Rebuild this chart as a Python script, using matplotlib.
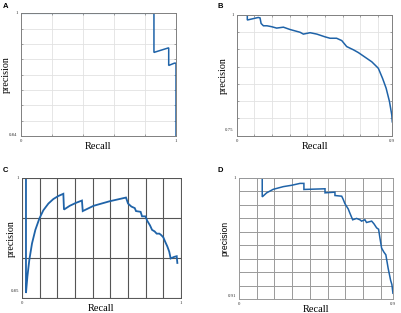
import numpy as np
import matplotlib
matplotlib.use('Agg')
import matplotlib.pyplot as plt

# ---- data ----
# panel A
a_recall = [0.0, 0.858, 0.858, 0.953, 0.953, 0.99, 1.0, 1.0]
a_prec = [1.0, 1.0, 0.949, 0.955, 0.932, 0.935, 0.935, 0.84]

# panel B
b_recall = [0.0, 0.060, 0.060, 0.122, 0.132, 0.138, 0.151, 0.171, 0.198, 0.226, 0.264,
            0.301, 0.358, 0.377, 0.415, 0.453, 0.500, 0.528, 0.565, 0.594, 0.622,
            0.660, 0.688, 0.726, 0.764, 0.801, 0.825, 0.845, 0.864, 0.877, 0.880]
b_prec = [1.0, 1.0, 0.9885, 0.994, 0.993, 0.981, 0.976, 0.976, 0.974, 0.971, 0.973,
          0.968, 0.962, 0.958, 0.961, 0.958, 0.952, 0.949, 0.949, 0.944, 0.931,
          0.924, 0.918, 0.908, 0.898, 0.884, 0.862, 0.841, 0.812, 0.783, 0.768]

# panel C
c_recall = [0.025, 0.025, 0.034, 0.046, 0.063, 0.084, 0.109, 0.134, 0.166, 0.197, 0.228,
            0.260, 0.264, 0.300, 0.340, 0.377, 0.382, 0.450, 0.550, 0.654,
            0.667, 0.688, 0.709, 0.717, 0.746, 0.755, 0.776, 0.788, 0.805, 0.818,
            0.834, 0.847, 0.864, 0.876, 0.889, 0.901, 0.914, 0.926, 0.935, 0.956,
            0.973, 0.977]
c_prec = [1.0, 0.847, 0.869, 0.891, 0.913, 0.931, 0.946, 0.957, 0.966, 0.972, 0.976,
          0.979, 0.958, 0.963, 0.967, 0.970, 0.956, 0.963, 0.969, 0.974,
          0.966, 0.962, 0.960, 0.956, 0.955, 0.949, 0.949, 0.943, 0.937, 0.931,
          0.929, 0.926, 0.926, 0.924, 0.921, 0.915, 0.909, 0.902, 0.893, 0.895,
          0.896, 0.887]

# panel D
d_recall = [0.0, 0.131, 0.131, 0.156, 0.193, 0.250, 0.297, 0.344, 0.366, 0.366, 0.485,
            0.485, 0.541, 0.541, 0.579, 0.588, 0.597, 0.616, 0.625, 0.641, 0.663,
            0.682, 0.691, 0.710, 0.719, 0.748, 0.761, 0.776, 0.787, 0.794, 0.804,
            0.817, 0.828, 0.841, 0.855, 0.862, 0.868]
d_prec = [1.0, 1.0, 0.986, 0.989, 0.9916, 0.9936, 0.9946, 0.996, 0.996, 0.9915, 0.992,
          0.989, 0.9895, 0.987, 0.9865, 0.984, 0.981, 0.977, 0.974, 0.969, 0.970,
          0.969, 0.968, 0.969, 0.967, 0.968, 0.966, 0.963, 0.962, 0.956, 0.948,
          0.945, 0.943, 0.933, 0.924, 0.921, 0.9145]

line_color = '#1f63a8'
W, H = 401, 313

fig = plt.figure(figsize=(W / 100, H / 100), dpi=100, facecolor='white')


def make_panel(box, letter, letter_xy, x, y, xlim, ylim, xgrid, ygrid,
               grid_color, frame_color, lw, labels, ylab_dx, ylab_font,
               grid_lw=0.6):
    # box = (left, top, right, bottom) in pixels
    l, t, r, b = box
    ax = fig.add_axes([l / W, 1 - b / H, (r - l) / W, (b - t) / H])
    ax.plot(x, y, color=line_color, linewidth=lw, solid_joinstyle='miter')
    ax.set_xlim(xlim)
    ax.set_ylim(ylim)
    ax.set_xticks(xgrid)
    ax.set_yticks(ygrid)
    ax.set_xticklabels([])
    ax.set_yticklabels([])
    ax.tick_params(direction='in', length=1.5, width=0.5, top=True, right=True,
                   colors=frame_color)
    ax.grid(True, color=grid_color, linewidth=grid_lw)
    ax.set_axisbelow(True)
    for s in ax.spines.values():
        s.set_color(frame_color)
        s.set_linewidth(0.7)

    # axis titles placed in pixels
    fig.text((l + r) / 2 / W, 1 - (b + 10.5) / H, 'Recall', family='Liberation Serif',
             fontsize=7.5, ha='center', va='center')
    fam, fs = ylab_font
    fig.text((l - ylab_dx) / W, 1 - (t + b) / 2 / H, 'precision', family=fam,
             fontsize=fs, ha='center', va='center', rotation=90)

    # tiny end labels
    x0l, x1l, y0l, y1l, y0pos = labels
    tk = dict(family='Liberation Serif', fontsize=3.5, color='#333333')
    fig.text(l / W, 1 - (b + 5) / H, x0l, ha='center', va='center', **tk)
    fig.text(r / W, 1 - (b + 5) / H, x1l, ha='center', va='center', **tk)
    fig.text((l - 3) / W, 1 - t / H, y1l, ha='right', va='center', **tk)
    fig.text((l - 3) / W, 1 - y0pos / H, y0l, ha='right', va='center', **tk)

    fig.text(letter_xy[0] / W, 1 - letter_xy[1] / H, letter, fontsize=5.5,
             fontweight='bold', family='Liberation Sans', ha='left', va='center')
    return ax


serif = ('Liberation Serif', 7.2)

# A
make_panel((20.7, 13.3, 176, 136), 'A', (3, 6), a_recall, a_prec,
           (0, 1), (0.84, 1.0), np.linspace(0, 1, 6), np.linspace(0.84, 1.0, 9),
           '#e2e2e2', '#808080', 1.1, ('0', '1', '0.84', '1', 134.5), 14.5, serif)

# B
make_panel((236.7, 14.7, 392.3, 135.7), 'B', (218, 6), b_recall, b_prec,
           (0, 0.88), (0.738, 1.0), np.arange(0, 0.9, 0.1), np.linspace(0.738, 1.0, 8),
           '#e2e2e2', '#808080', 1.1, ('0', '0.9', '0.75', '1', 130), 13.5, serif)

# C
make_panel((22, 178, 181, 298.3), 'C', (3, 171), c_recall, c_prec,
           (0, 1), (0.84, 1.0), np.linspace(0, 1, 10), np.linspace(0.84, 1.0, 4),
           '#555555', '#555555', 1.3, ('0', '1', '0.85', '1', 290.7), 10.5, serif,
           grid_lw=0.8)

# D
make_panel((239, 178, 393.3, 299.3), 'D', (218, 171), d_recall, d_prec,
           (0, 0.87), (0.91, 1.0), np.arange(0, 0.9, 0.1), np.linspace(0.91, 1.0, 10),
           '#9a9a9a', '#9a9a9a', 1.1, ('0', '0.9', '0.91', '1', 295.7), 14,
           ('Liberation Sans', 6.2), grid_lw=0.7)

fig.savefig('out.png', dpi=100, facecolor='white')
